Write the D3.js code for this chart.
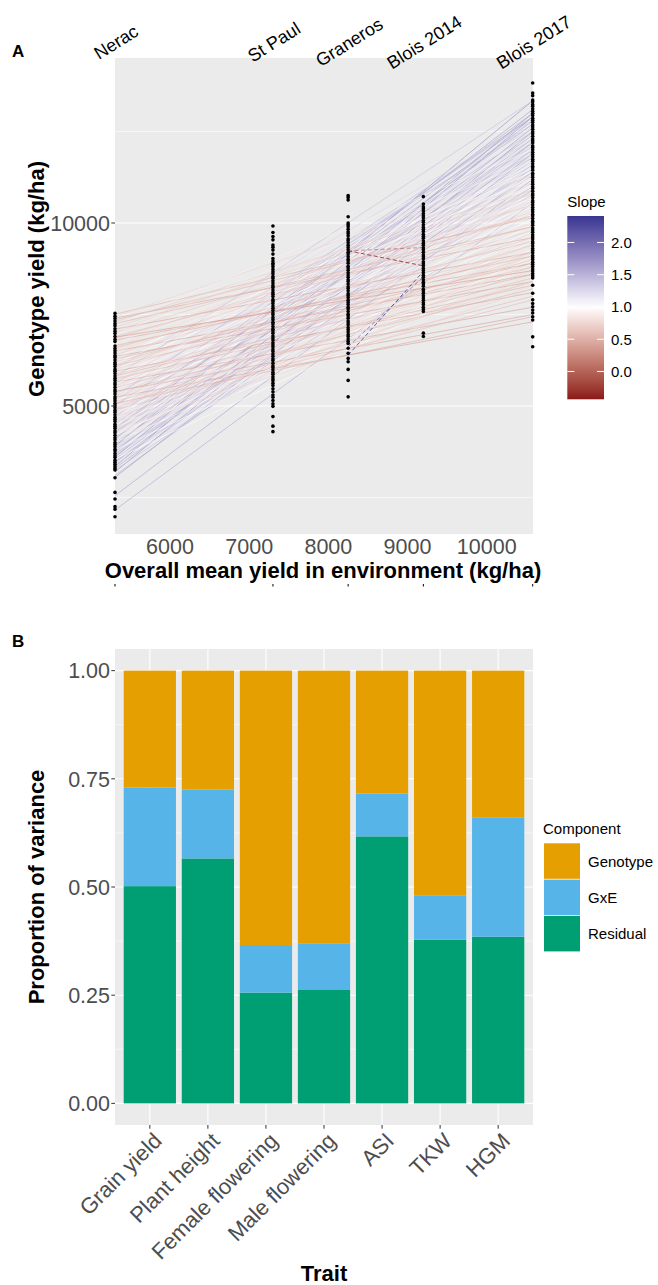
<!DOCTYPE html>
<html>
<head>
<meta charset="utf-8">
<script src="https://cdn.jsdelivr.net/npm/d3@7"></script>
<style>
  body { margin: 0; background: #fff; }
  text { font-family: "Liberation Sans", Arial, Helvetica, sans-serif; }
</style>
</head>
<body>
<svg id="chart" width="658" height="1285"></svg>
<script>
// ---------------- Panel A data: genotype yield vs environment mean ----------------
const environments = ["Nerac", "St Paul", "Graneros", "Blois 2014", "Blois 2017"];
const envMeans = [5305, 7300, 8250, 9200, 10581];
const xTicksA = [6000, 7000, 8000, 9000, 10000];
const yTicksA = [5000, 10000];
const yMinorA = [2500, 7500, 12500];

// observed genotype yields (kg/ha) in each environment
const yieldsNerac = [1975, 2180, 2250, 2460, 2640, 3040, 3250, 3290, 3350, 3410, 3460, 3520, 3590, 3640, 3700, 3770, 3820, 3890, 3950, 4000, 4080, 4130, 4200, 4270, 4320, 4390, 4450, 4500, 4580, 4640, 4690, 4760, 4830, 4880, 4950, 5010, 5070, 5140, 5200, 5250, 5330, 5390, 5440, 5510, 5580, 5630, 5700, 5760, 5820, 5890, 5950, 6000, 6080, 6140, 6190, 6260, 6330, 6380, 6450, 6510, 6570, 6640, 6760, 6820, 6900, 6980, 7040, 7110, 7190, 7250, 7320, 7390, 7450, 7530];
const yieldsStPaul = [4300, 4450, 4710, 4990, 5060, 5150, 5240, 5300, 5390, 5470, 5560, 5620, 5690, 5740, 5800, 5870, 5920, 5990, 6050, 6100, 6170, 6240, 6290, 6360, 6420, 6490, 6540, 6610, 6670, 6730, 6800, 6860, 6910, 6990, 7050, 7100, 7170, 7240, 7290, 7360, 7420, 7490, 7540, 7610, 7670, 7730, 7800, 7860, 7910, 7990, 8050, 8100, 8170, 8240, 8290, 8360, 8420, 8490, 8540, 8610, 8670, 8730, 8800, 8860, 8900, 8960, 9030, 9150, 9260, 9340, 9400, 9540, 9630, 9740, 9920];
const yieldsGraneros = [5250, 5700, 6000, 6210, 6300, 6440, 6580, 6710, 6770, 6830, 6900, 6950, 7020, 7080, 7140, 7210, 7270, 7320, 7400, 7460, 7510, 7580, 7650, 7700, 7770, 7830, 7890, 7960, 8020, 8070, 8150, 8210, 8260, 8330, 8400, 8450, 8520, 8580, 8640, 8710, 8770, 8820, 8900, 8960, 9010, 9080, 9150, 9200, 9270, 9330, 9390, 9460, 9520, 9570, 9650, 9710, 9760, 9830, 9900, 9950, 10000, 10170, 10630, 10700, 10750];
const yieldsBlois2014 = [6900, 6990, 7580, 7640, 7700, 7770, 7820, 7890, 7950, 8010, 8080, 8140, 8190, 8270, 8330, 8380, 8450, 8520, 8570, 8640, 8700, 8760, 8830, 8890, 8940, 9020, 9080, 9130, 9200, 9270, 9320, 9390, 9450, 9510, 9580, 9640, 9690, 9770, 9830, 9880, 9950, 10020, 10070, 10140, 10200, 10260, 10330, 10390, 10440, 10520, 10720];
const yieldsBlois2017 = [6620, 6890, 7350, 7440, 7540, 7620, 7710, 7800, 7900, 8080, 8300, 8500, 8560, 8620, 8690, 8740, 8810, 8870, 8930, 9000, 9060, 9110, 9190, 9250, 9300, 9370, 9440, 9490, 9560, 9620, 9680, 9750, 9810, 9860, 9940, 10000, 10050, 10120, 10190, 10240, 10310, 10370, 10430, 10500, 10560, 10610, 10690, 10750, 10800, 10870, 10940, 10990, 11060, 11120, 11180, 11250, 11310, 11360, 11440, 11500, 11550, 11620, 11690, 11740, 11810, 11870, 11930, 12000, 12060, 12110, 12190, 12250, 12300, 12370, 12440, 12490, 12560, 12620, 12680, 12750, 12810, 12860, 12940, 13000, 13050, 13120, 13190, 13240, 13310, 13360, 13480, 13550, 13825];
const yieldsByEnv = [yieldsNerac, yieldsStPaul, yieldsGraneros, yieldsBlois2014, yieldsBlois2017];

// fitted genotype lines over the full range: [yield at Nerac mean, yield at Blois 2017 mean]
const fittedLines = [
  [2160, 10550], [2550, 11200], [3050, 11900], [3200, 12500], [3250, 10800], [3300, 11600],
  [3350, 12900], [3400, 10300], [3450, 12200], [3500, 11000], [3600, 13000], [3650, 11500],
  [3700, 10600], [3750, 12600], [3800, 11800], [3850, 10900], [3900, 13340], [3950, 12300],
  [4000, 11300], [4050, 10200], [4100, 12800], [4150, 11700], [4200, 10700], [4250, 12400],
  [4300, 11100], [4350, 13100], [4400, 11900], [4450, 10400], [4500, 12700], [4550, 11400],
  [4600, 12100], [4650, 10900], [4700, 13000], [4750, 11600], [4800, 12500], [4850, 10800],
  [4900, 12000], [4950, 11300], [5000, 12900], [5050, 11800], [5100, 10700], [5150, 12300],
  [5200, 11500], [5300, 12700], [5350, 11200], [5450, 12100], [5500, 11900], [5600, 12600],
  [5700, 11700], [5790, 13340], [5850, 12200], [5950, 11600], [6100, 12400], [6250, 11900],
  [3100, 11400], [3550, 12000], [3900, 11000], [4400, 12900], [4750, 11100], [5250, 12900],
  [5650, 12000], [6000, 12800], [3480, 10900], [4120, 11500], [4880, 11900], [5420, 11500],
  [4300, 12200], [3700, 11300], [5600, 11300],
  [3600, 9800], [4000, 9300], [4500, 9800], [5000, 10300], [5500, 10800], [6000, 11250],
  [4200, 9500], [4800, 10100], [5300, 10550], [3800, 9100], [6300, 11500], [4650, 9950],
  [5150, 10450], [5800, 11050], [4400, 9700], [5700, 11000], [6150, 11400], [4950, 10250],
  [3550, 8900], [5450, 10700],
  [7510, 10150], [7450, 11300], [7400, 9600], [7300, 10900], [7200, 12000], [7100, 9200],
  [7000, 10500], [6950, 11700], [6900, 9900], [6800, 8900], [6750, 10800], [6700, 11400],
  [6600, 9500], [6550, 10300], [6500, 8600], [6450, 11000], [6400, 9800], [6350, 8400],
  [6300, 10600], [6200, 9200], [6150, 11200], [6100, 8800], [6050, 10000], [6000, 9400],
  [5950, 8100], [5900, 10700], [5850, 9000], [5800, 10300], [5750, 8300], [5700, 9700],
  [5650, 7700], [5600, 10500], [5550, 9100], [5500, 8500], [5450, 10000], [5400, 7500],
  [5350, 9400], [5240, 7300], [5070, 7440], [5200, 8800], [5100, 9900], [5050, 8000],
  [5000, 9500], [4950, 8700], [4900, 7900], [4800, 9600], [4700, 8400], [4600, 9100],
  [4450, 8900], [4300, 8600], [4100, 8300],
  [7350, 10200], [7250, 9900], [7050, 11100], [6850, 10200], [6650, 9100], [6480, 10500],
  [6280, 8900], [6120, 9600], [5980, 10400], [5820, 8600], [5680, 9400], [5520, 10200],
  [5380, 8200], [5230, 9200], [5120, 8400], [4980, 9100], [4850, 8900], [4720, 9300],
  [4550, 8500], [4380, 8200], [4250, 9000], [6620, 10700], [6880, 8700], [7150, 10800]
];
// genotypes tested only in Graneros and Blois 2014: [from env, to env, yield from, yield to]
const partialLines = [
  [2, 3, 9240, 9330],
  [2, 3, 9240, 8830],
  [2, 3, 6620, 8530],
  [2, 3, 6390, 8680]
];
const slopeTicks = [0, 0.5, 1, 1.5, 2];

// ---------------- Panel B data: variance components per trait ----------------
const traits = ["Grain yield", "Plant height", "Female flowering", "Male flowering", "ASI", "TKW", "HGM"];
const residualShare = [0.502, 0.566, 0.256, 0.262, 0.617, 0.378, 0.385];
const gxeShare = [0.228, 0.159, 0.110, 0.108, 0.099, 0.103, 0.275];
const genotypeShare = [0.270, 0.275, 0.634, 0.630, 0.284, 0.519, 0.340];
const components = ["Genotype", "GxE", "Residual"];
const componentColors = ["#E69F00", "#56B4E9", "#009E73"];
const yTicksB = [0, 0.25, 0.5, 0.75, 1];
const yMinorB = [0.125, 0.375, 0.625, 0.875];

// ---------------- drawing ----------------
const svg = d3.select("#chart");
const PANEL_BG = "#EBEBEB", TICK_TXT = "#4D4D4D", TICK_LINE = "#333333";

// Panel A frame
const A = { left: 115, right: 533, top: 58, bottom: 534 };
const xA = d3.scaleLinear().domain([envMeans[0], envMeans[4]]).range([A.left, A.right - 0.3]);
const yA = d3.scaleLinear().domain([1503, 14508]).range([A.bottom, A.top]);

svg.append("rect").attr("x", A.left).attr("y", A.top)
  .attr("width", A.right - A.left).attr("height", A.bottom - A.top).attr("fill", PANEL_BG);

const gA = svg.append("g");
gA.selectAll("line.minor").data(yMinorA).join("line")
  .attr("x1", A.left).attr("x2", A.right).attr("y1", d => yA(d)).attr("y2", d => yA(d))
  .attr("stroke", "#fff").attr("stroke-width", 0.55);
gA.selectAll("line.major").data(yTicksA).join("line")
  .attr("x1", A.left).attr("x2", A.right).attr("y1", d => yA(d)).attr("y2", d => yA(d))
  .attr("stroke", "#fff").attr("stroke-width", 1.1);

// slope colour scale (diverging around 1)
const span = (envMeans[4] - envMeans[0]);
const fullSlopes = fittedLines.map(d => (d[1] - d[0]) / span);
const partSlopes = partialLines.map(d => (d[3] - d[2]) / (envMeans[d[1]] - envMeans[d[0]]));
const allSlopes = fullSlopes.concat(partSlopes);
const sMin = d3.min(allSlopes), sMax = d3.max(allSlopes);
const half = Math.max(1 - sMin, sMax - 1);
const slopeColor = d3.scaleLinear().domain([1 - half, 1, 1 + half])
  .range(["#8B1A1A", "#FFFFFF", "#34348F"]).interpolate(d3.interpolateLab);

const clipA = svg.append("clipPath").attr("id", "clipA");
clipA.append("rect").attr("x", A.left).attr("y", A.top)
  .attr("width", A.right - A.left).attr("height", A.bottom - A.top);

const lineG = svg.append("g").attr("clip-path", "url(#clipA)");
lineG.selectAll("line.fit").data(fittedLines).join("line")
  .attr("x1", xA(envMeans[0])).attr("x2", xA(envMeans[4]))
  .attr("y1", d => yA(d[0])).attr("y2", d => yA(d[1]))
  .attr("stroke", (d, i) => slopeColor(fullSlopes[i]))
  .attr("stroke-width", 0.8).attr("stroke-opacity", 0.75);
lineG.selectAll("line.part").data(partialLines).join("line")
  .attr("x1", d => xA(envMeans[d[0]])).attr("x2", d => xA(envMeans[d[1]]))
  .attr("y1", d => yA(d[2])).attr("y2", d => yA(d[3]))
  .attr("stroke", (d, i) => slopeColor(partSlopes[i]))
  .attr("stroke-width", 0.9).attr("stroke-opacity", 0.85).attr("stroke-dasharray", "4,2.5");

// points
const ptG = svg.append("g");
yieldsByEnv.forEach((vals, i) => {
  ptG.selectAll(null).data(vals).join("circle")
    .attr("cx", xA(envMeans[i])).attr("cy", d => yA(d)).attr("r", 1.8).attr("fill", "#000");
});

// y axis A
yTicksA.forEach(t => {
  svg.append("line").attr("x1", A.left - 3.7).attr("x2", A.left).attr("y1", yA(t)).attr("y2", yA(t))
    .attr("stroke", TICK_LINE).attr("stroke-width", 1);
  svg.append("text").attr("x", A.left - 5).attr("y", yA(t)).attr("dy", "0.36em")
    .attr("text-anchor", "end").attr("font-size", 21.5).attr("fill", TICK_TXT).text(t);
});
// x axis A
xTicksA.forEach(t => {
  svg.append("text").attr("x", xA(t)).attr("y", A.bottom + 12).attr("dy", "0.36em")
    .attr("text-anchor", "middle").attr("font-size", 21.5).attr("fill", TICK_TXT).text(t);
});
// environment marks beneath the title
envMeans.forEach(m => {
  svg.append("line").attr("x1", xA(m)).attr("x2", xA(m)).attr("y1", 584).attr("y2", 586.5)
    .attr("stroke", "#000").attr("stroke-width", 1);
});
// environment names on top
environments.forEach((e, i) => {
  svg.append("text").attr("transform", `translate(${xA(envMeans[i]) + 1},42) rotate(-32)`)
    .attr("text-anchor", "middle").attr("dy", "0.35em").attr("font-size", 18).attr("fill", "#000").text(e);
});
svg.append("text").attr("x", 323).attr("y", 570).attr("dy", "0.36em")
  .attr("text-anchor", "middle").attr("font-size", 22).attr("font-weight", "bold").text("Overall mean yield in environment (kg/ha)");
svg.append("text").attr("transform", "translate(36,279) rotate(-90)")
  .attr("text-anchor", "middle").attr("dy", "0.36em").attr("font-size", 22).attr("font-weight", "bold").text("Genotype yield (kg/ha)");
svg.append("text").attr("x", 12).attr("y", 57).attr("font-size", 17).attr("font-weight", "bold").text("A");

// colour bar legend
const cb = { x: 567.3, w: 36.7 };
const cbY = d3.scaleLinear().domain([sMin, sMax]).range([399.3, 216]);
const grad = svg.append("defs").append("linearGradient").attr("id", "slopeGrad")
  .attr("x1", 0).attr("y1", 1).attr("x2", 0).attr("y2", 0);
d3.range(0, 1.0001, 0.05).forEach(f => {
  grad.append("stop").attr("offset", f).attr("stop-color", slopeColor(sMin + f * (sMax - sMin)));
});
svg.append("text").attr("x", cb.x).attr("y", 207).attr("font-size", 15).text("Slope");
svg.append("rect").attr("x", cb.x).attr("y", cbY(sMax)).attr("width", cb.w)
  .attr("height", cbY(sMin) - cbY(sMax)).attr("fill", "url(#slopeGrad)");
slopeTicks.forEach(t => {
  [[cb.x, cb.x + 7], [cb.x + cb.w - 7, cb.x + cb.w]].forEach(([a, b]) => {
    svg.append("line").attr("x1", a).attr("x2", b).attr("y1", cbY(t)).attr("y2", cbY(t))
      .attr("stroke", "#fff").attr("stroke-width", 1);
  });
  svg.append("text").attr("x", 611).attr("y", cbY(t)).attr("dy", "0.36em")
    .attr("font-size", 15).text(d3.format(".1f")(t));
});

// ---------------- Panel B ----------------
const B = { left: 115, right: 533, top: 649, bottom: 1125 };
const xB = d3.scalePoint().domain(traits).range([B.left, B.right]).padding(0.6);
const yB = d3.scaleLinear().domain([-0.05, 1.05]).range([B.bottom, B.top]);
const barW = xB.step() * 0.9;

svg.append("rect").attr("x", B.left).attr("y", B.top)
  .attr("width", B.right - B.left).attr("height", B.bottom - B.top).attr("fill", PANEL_BG);
yMinorB.forEach(t => svg.append("line").attr("x1", B.left).attr("x2", B.right)
  .attr("y1", yB(t)).attr("y2", yB(t)).attr("stroke", "#fff").attr("stroke-width", 0.55));
yTicksB.forEach(t => svg.append("line").attr("x1", B.left).attr("x2", B.right)
  .attr("y1", yB(t)).attr("y2", yB(t)).attr("stroke", "#fff").attr("stroke-width", 1.1));
traits.forEach(t => svg.append("line").attr("x1", xB(t)).attr("x2", xB(t))
  .attr("y1", B.top).attr("y2", B.bottom).attr("stroke", "#fff").attr("stroke-width", 1.1));

const table = traits.map((t, i) => ({ trait: t, Residual: residualShare[i], GxE: gxeShare[i], Genotype: genotypeShare[i] }));
const stack = d3.stack().keys(["Residual", "GxE", "Genotype"])(table);
const colorOf = d3.scaleOrdinal().domain(components).range(componentColors);
svg.append("g").selectAll("g").data(stack).join("g")
  .attr("fill", d => colorOf(d.key))
  .selectAll("rect").data(d => d).join("rect")
  .attr("x", d => xB(d.data.trait) - barW / 2).attr("width", barW)
  .attr("y", d => yB(d[1])).attr("height", d => yB(d[0]) - yB(d[1]));

yTicksB.forEach(t => {
  svg.append("line").attr("x1", B.left - 3.7).attr("x2", B.left).attr("y1", yB(t)).attr("y2", yB(t))
    .attr("stroke", TICK_LINE).attr("stroke-width", 1);
  svg.append("text").attr("x", B.left - 5).attr("y", yB(t)).attr("dy", "0.36em")
    .attr("text-anchor", "end").attr("font-size", 21.5).attr("fill", TICK_TXT).text(d3.format(".2f")(t));
});
traits.forEach(t => {
  svg.append("line").attr("x1", xB(t)).attr("x2", xB(t)).attr("y1", B.bottom).attr("y2", B.bottom + 3.7)
    .attr("stroke", TICK_LINE).attr("stroke-width", 1);
  svg.append("text").attr("transform", `translate(${xB(t) + 2},${B.bottom + 6}) rotate(-45)`)
    .attr("text-anchor", "end").attr("dy", "0.72em").attr("font-size", 22).attr("fill", TICK_TXT).text(t);
});
svg.append("text").attr("x", (B.left + B.right) / 2).attr("y", 1273).attr("dy", "0.36em")
  .attr("text-anchor", "middle").attr("font-size", 22).attr("font-weight", "bold").text("Trait");
svg.append("text").attr("transform", `translate(36,${yB(0.5)}) rotate(-90)`)
  .attr("text-anchor", "middle").attr("dy", "0.36em").attr("font-size", 22).attr("font-weight", "bold").text("Proportion of variance");
svg.append("text").attr("x", 12).attr("y", 647).attr("font-size", 17).attr("font-weight", "bold").text("B");

// component legend
svg.append("text").attr("x", 543).attr("y", 834).attr("font-size", 15).text("Component");
components.forEach((c, i) => {
  const y0 = 843.3 + i * 36.3;
  svg.append("rect").attr("x", 544).attr("y", y0).attr("width", 36).attr("height", 35.5).attr("fill", colorOf(c));
  svg.append("text").attr("x", 588).attr("y", y0 + 18).attr("dy", "0.36em").attr("font-size", 15).text(c);
});
</script>
</body>
</html>
